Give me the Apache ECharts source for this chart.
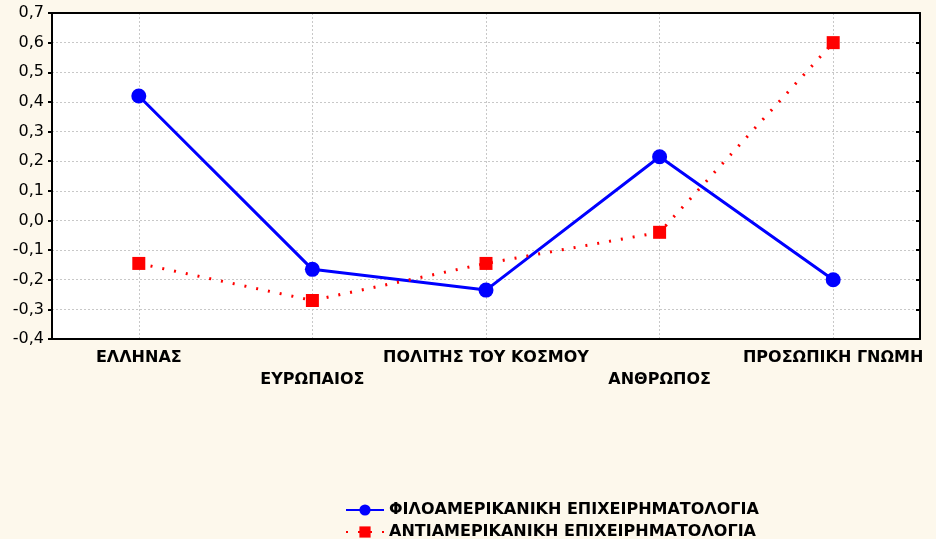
<!DOCTYPE html>
<html>
<head>
<meta charset="utf-8">
<script src="https://cdn.jsdelivr.net/npm/echarts@6/dist/echarts.min.js"></script>
<style>
html,body{margin:0;padding:0;background:#fdf8ec;}
#chart{width:936px;height:539px;}
</style>
</head>
<body>
<div id="chart"></div>
<script>
// κατηγορίες
var categories = ['ΕΛΛΗΝΑΣ', 'ΕΥΡΩΠΑΙΟΣ', 'ΠΟΛΙΤΗΣ ΤΟΥ ΚΟΣΜΟΥ', 'ΑΝΘΡΩΠΟΣ', 'ΠΡΟΣΩΠΙΚΗ ΓΝΩΜΗ'];
var seriesNames = ['ΦΙΛΟΑΜΕΡΙΚΑΝΙΚΗ ΕΠΙΧΕΙΡΗΜΑΤΟΛΟΓΙΑ', 'ΑΝΤΙΑΜΕΡΙΚΑΝΙΚΗ ΕΠΙΧΕΙΡΗΜΑΤΟΛΟΓΙΑ'];
var proValues = [0.42, -0.165, -0.235, 0.215, -0.2];
var antiValues = [-0.145, -0.27, -0.145, -0.04, 0.6];

var chart = echarts.init(document.getElementById('chart'));

var font = 'DejaVu Sans, Verdana, sans-serif';

function legendAt(name, top) {
    return {
        orient: 'horizontal',
        left: 340,
        top: top,
        itemWidth: 38,
        itemHeight: 14,
        itemGap: 6,
        selectedMode: false,
        textStyle: { color: '#000', fontWeight: 'bold', fontSize: 16, fontFamily: font },
        data: [name]
    };
}

var opt = {
    backgroundColor: '#fdf8ec',
    animation: false,
    textStyle: { fontFamily: font },
    legend: [legendAt(seriesNames[0], 497), legendAt(seriesNames[1], 519)],
    grid: {
        left: 52,
        right: 16,
        top: 13,
        bottom: 200,
        backgroundColor: '#fff',
        show: true,
        borderWidth: 0
    },
    xAxis: [{
        type: 'category',
        data: categories,
        position: 'bottom',
        axisLine: { onZero: false, lineStyle: { color: '#000', width: 2 } },
        axisTick: { alignWithLabel: true, length: 4, lineStyle: { color: '#000', width: 2 } },
        splitLine: { show: true, alignWithLabel: true, lineStyle: { color: '#c8c8c8', type: [2, 2] } },
        axisLabel: {
            color: '#000',
            fontWeight: 'bold',
            fontSize: 16,
            fontFamily: font,
            margin: 8,
            lineHeight: 22,
            interval: 0,
            formatter: function (v, i) { return i % 2 ? '\n' + v : v; }
        }
    }, {
        type: 'category',
        data: categories,
        position: 'top',
        axisLine: { onZero: false, lineStyle: { color: '#000', width: 2 } },
        axisTick: { alignWithLabel: true, inside: true, length: 4, lineStyle: { color: '#000', width: 2 } },
        axisLabel: { show: false }
    }],
    yAxis: [{
        type: 'value',
        min: -0.4,
        max: 0.7,
        interval: 0.1,
        axisLine: { show: true, onZero: false, lineStyle: { color: '#000', width: 2 } },
        axisTick: { show: true, length: 4, lineStyle: { color: '#000', width: 2 } },
        splitLine: { show: true, lineStyle: { color: '#c8c8c8', type: [2, 2] } },
        axisLabel: {
            color: '#000',
            fontSize: 16,
            fontFamily: font,
            margin: 8,
            formatter: function (v) {
                return (Math.round(v * 10) / 10).toFixed(1).replace('.', ',');
            }
        }
    }, {
        type: 'value',
        min: -0.4,
        max: 0.7,
        interval: 0.1,
        position: 'right',
        axisLine: { show: true, onZero: false, lineStyle: { color: '#000', width: 2 } },
        axisTick: { show: true, inside: true, length: 4, lineStyle: { color: '#000', width: 2 } },
        splitLine: { show: false },
        axisLabel: { show: false }
    }],
    series: [{
        name: seriesNames[0],
        type: 'line',
        data: proValues,
        symbol: 'circle',
        symbolSize: 15,
        color: '#0000ff',
        lineStyle: { color: '#0000ff', width: 3 },
        itemStyle: { color: '#0000ff' }
    }, {
        name: seriesNames[1],
        type: 'line',
        data: antiValues,
        symbol: 'rect',
        symbolSize: 13,
        color: '#ff0000',
        lineStyle: { color: '#ff0000', width: 3, type: [2, 10] },
        itemStyle: { color: '#ff0000' }
    }]
};
chart.setOption(opt);
</script>
</body>
</html>
